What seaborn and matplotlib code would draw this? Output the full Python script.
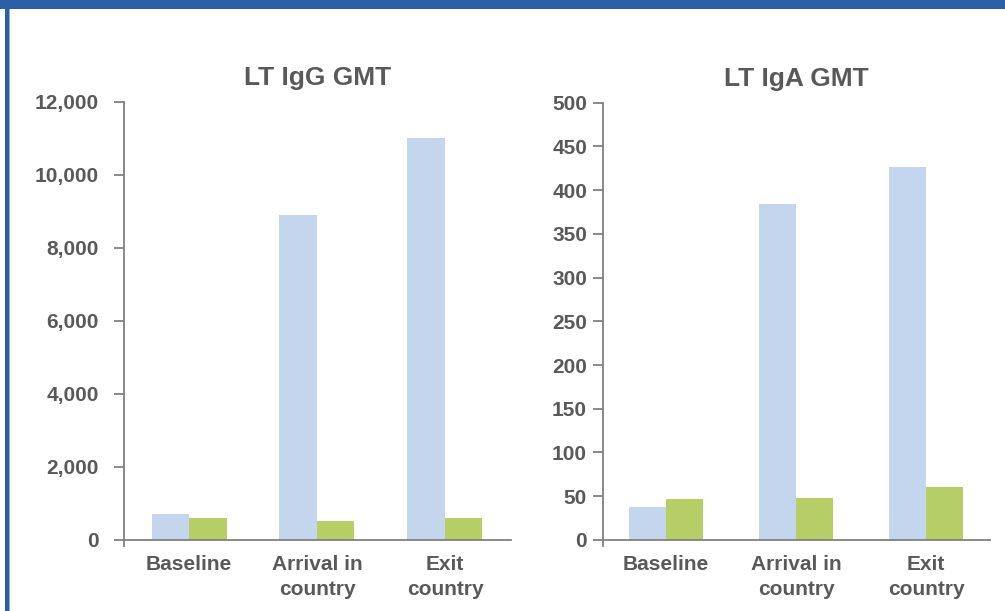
import matplotlib
matplotlib.use("Agg")
import matplotlib.pyplot as plt
from matplotlib.patches import Rectangle
from matplotlib.ticker import FixedLocator, StrMethodFormatter
import pandas as pd
import seaborn as sns

# ---- data -------------------------------------------------------------
timepoints = ["Baseline", "Arrival in\ncountry", "Exit\ncountry"]
groups = ["Series 1", "Series 2"]

igg_series1 = [700, 8900, 11000]
igg_series2 = [600, 520, 600]

iga_series1 = [38, 384, 426]
iga_series2 = [47, 48, 61]

igg_ticks = [0, 2000, 4000, 6000, 8000, 10000, 12000]
iga_ticks = [0, 50, 100, 150, 200, 250, 300, 350, 400, 450, 500]

titles = ["LT IgG GMT", "LT IgA GMT"]

# ---- styling ----------------------------------------------------------
sns.set_theme(style="white")
plt.rcParams["font.family"] = ["Liberation Sans", "DejaVu Sans"]
plt.rcParams["font.weight"] = "bold"

TEXT = "#595959"
AXIS = "#808080"
palette = {"Series 1": "#C3D6EE", "Series 2": "#B5CE66"}
FRAME = "#2A5FA8"

W, H = 1005, 611
fig = plt.figure(figsize=(W / 100, H / 100), dpi=100)


def px_box(x0, y0, x1, y1):
    """Axes rectangle from pixel edges (top-left origin)."""
    return [x0 / W, 1 - y1 / H, (x1 - x0) / W, (y1 - y0) / H]


def long_frame(s1, s2):
    rows = []
    for t, a, b in zip(timepoints, s1, s2):
        rows.append({"time": t, "group": groups[0], "value": a})
        rows.append({"time": t, "group": groups[1], "value": b})
    return pd.DataFrame(rows)


panels = [
    dict(box=px_box(124, 102, 511, 546), data=long_frame(igg_series1, igg_series2),
         ticks=igg_ticks, ylim=(-165, 12000), xlim=(-0.508, 2.516),
         width=0.586, pad=10.8, fmt="{x:,.0f}"),
    dict(box=px_box(603, 102.7, 990, 546), data=long_frame(iga_series1, iga_series2),
         ticks=iga_ticks, ylim=(-7, 500), xlim=(-0.485, 2.49),
         width=0.57, pad=4.3, fmt="{x:.0f}"),
]

for p, title in zip(panels, titles):
    ax = fig.add_axes(p["box"])
    sns.barplot(data=p["data"], x="time", y="value", hue="group",
                hue_order=groups, order=timepoints, palette=palette,
                width=p["width"], saturation=1, legend=False, ax=ax,
                linewidth=0, errorbar=None)
    ax.set_xlim(*p["xlim"])
    ax.set_ylim(*p["ylim"])
    ax.yaxis.set_major_locator(FixedLocator(p["ticks"]))
    ax.yaxis.set_major_formatter(StrMethodFormatter(p["fmt"]))
    ax.set_xlabel("")
    ax.set_ylabel("")
    ax.set_title(title, fontsize=19, fontweight="bold", color=TEXT, pad=12)

    for side in ("top", "right"):
        ax.spines[side].set_visible(False)
    ax.spines["bottom"].set_position(("data", 0))
    for side in ("left", "bottom"):
        ax.spines[side].set_color(AXIS)
        ax.spines[side].set_linewidth(1.3)

    ax.tick_params(axis="y", length=7.2, width=1.3, color=AXIS, pad=p["pad"],
                   labelsize=15, labelcolor=TEXT, left=True)
    ax.tick_params(axis="x", length=0, pad=11, labelsize=15, labelcolor=TEXT)
    for lab in ax.get_xticklabels() + ax.get_yticklabels():
        lab.set_fontweight("bold")
    for lab in ax.get_xticklabels():
        lab.set_linespacing(1.4)

# ---- slide frame --------------------------------------------------------
fig.patches.append(Rectangle((0, 1 - 9 / H), 1, 9 / H, transform=fig.transFigure,
                             facecolor=FRAME, edgecolor="none", zorder=10))
fig.patches.append(Rectangle((5 / W, 0), 4 / W, 1, transform=fig.transFigure,
                             facecolor=FRAME, edgecolor="none", zorder=10))
fig.patches.append(Rectangle((9 / W, 0), 1 / W, 1 - 9 / H, transform=fig.transFigure,
                             facecolor="#8FAEDB", edgecolor="none", zorder=10))

fig.savefig("out.png", dpi=100, facecolor="white")
